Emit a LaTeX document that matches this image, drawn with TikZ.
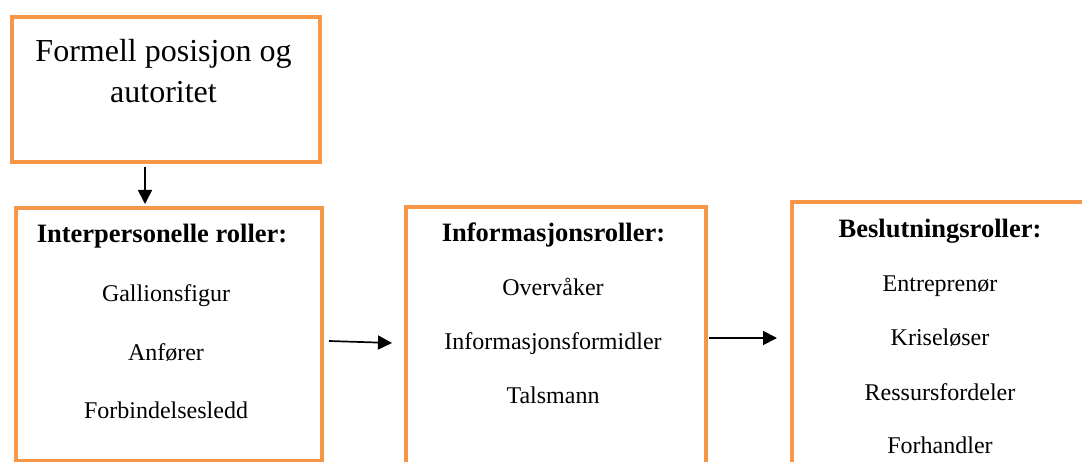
\documentclass[tikz,border=0pt]{standalone}
\usepackage{fontspec}
\setmainfont{Liberation Serif}
\usetikzlibrary{arrows.meta}
\definecolor{boxorange}{RGB}{247,150,70}
\tikzset{
  box/.style={draw=boxorange, line width=4pt, fill=white, inner sep=0pt, anchor=north west},
  toptext/.style={anchor=base, font=\fontsize{32}{38}\selectfont, inner sep=0pt},
  titletext/.style={anchor=base, font=\fontsize{26.5}{32}\selectfont\bfseries, inner sep=0pt},
  itemtext/.style={anchor=base, font=\fontsize{24}{29}\selectfont, inner sep=0pt},
  arr/.style={-{Triangle[length=14pt,width=14pt]}, line width=1.7pt, draw=black},
}
\begin{document}
\begin{tikzpicture}[x=1pt,y=-1pt]
\useasboundingbox (0,0) rectangle (1082,462);
\clip (0,0) rectangle (1082,462);
\fill[white] (0,0) rectangle (1082,462);
% boxes
\node[box, minimum width=308pt, minimum height=145pt] (b1) at (10,15) {};
\node[box, minimum width=306pt, minimum height=253pt] (b2) at (14,206) {};
\node[box, minimum width=300pt, minimum height=300pt] (b3) at (404,205) {};
\node[box, minimum width=320pt, minimum height=300pt] (b4) at (790,200) {};
% top box text
\node[toptext] (t1a) at (163.5,62) {Formell posisjon og};
\node[toptext] (t1b) at (163.5,103) {autoritet};
% box 2
\node[titletext] (h2) at (162,243) {Interpersonelle roller:};
\node[itemtext] (i21) at (166,302) {Gallionsfigur};
\node[itemtext] (i22) at (166,360) {Anfører};
\node[itemtext] (i23) at (166,418) {Forbindelsesledd};
% box 3
\node[titletext] (h3) at (553.5,242) {Informasjonsroller:};
\node[itemtext] (i31) at (553,296) {Overvåker};
\node[itemtext] (i32) at (553,350) {Informasjonsformidler};
\node[itemtext] (i33) at (553,403) {Talsmann};
% box 4
\node[titletext] (h4) at (940,238) {Beslutningsroller:};
\node[itemtext] (i41) at (940,292) {Entreprenør};
\node[itemtext] (i42) at (940,345) {Kriseløser};
\node[itemtext] (i43) at (940,400) {Ressursfordeler};
\node[itemtext] (i44) at (940,453) {Forhandler};
% arrows
\draw[arr] ([xshift=-21pt,yshift=-3pt]b1.south) -- ([xshift=-24pt,yshift=2pt]b2.north);
\draw[arr] ([xshift=5pt,yshift=-6.5pt]b2.east) -- ([xshift=-12pt,yshift=14pt]b3.west);
\draw[arr] ([xshift=1pt,yshift=19pt]b3.east) -- ([xshift=-13pt,yshift=14pt]b4.west);
\end{tikzpicture}
\end{document}
